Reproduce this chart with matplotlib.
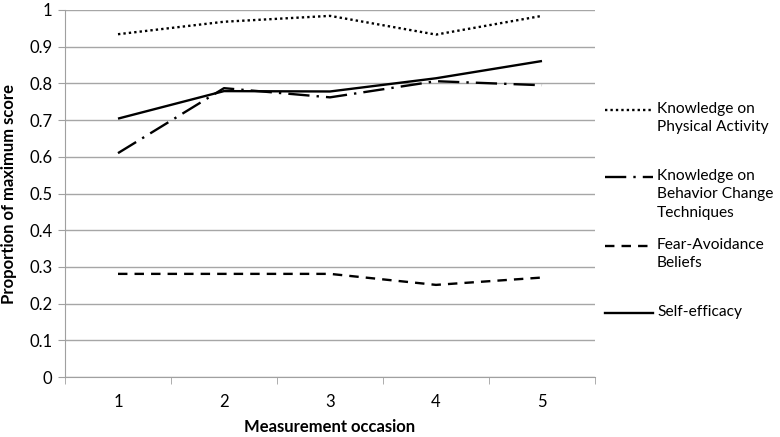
import matplotlib
matplotlib.use("Agg")
import matplotlib.pyplot as plt
from matplotlib.lines import Line2D

plt.rcParams['font.family'] = ['Lato', 'DejaVu Sans']

occasions = [1, 2, 3, 4, 5]
knowledge_pa = [0.934, 0.968, 0.984, 0.933, 0.984]
knowledge_bct = [0.610, 0.787, 0.762, 0.806, 0.795]
fear_avoidance = [0.281, 0.281, 0.281, 0.251, 0.271]
self_efficacy = [0.704, 0.779, 0.778, 0.814, 0.861]

labels = ["Knowledge on\nPhysical Activity",
          "Knowledge on\nBehavior Change\nTechniques",
          "Fear-Avoidance\nBeliefs",
          "Self-efficacy"]

styles = [dict(dashes=(1.0, 1.3)),
          dict(dashes=(9, 3, 1, 3)),
          dict(dashes=(4, 3)),
          dict(linestyle='-')]

fig = plt.figure(figsize=(7.8, 4.37), dpi=100)
ax = fig.add_axes([65 / 780, 1 - 377 / 437, 530 / 780, 367 / 437])

series = [knowledge_pa, knowledge_bct, fear_avoidance, self_efficacy]
for vals, st in zip(series, styles):
    ax.plot(occasions, vals, color='black', lw=1.7, solid_capstyle='butt',
            dash_capstyle='butt', **st)

ax.set_xlim(0.5, 5.5)
ax.set_ylim(0, 1)
ax.set_yticks([i / 10 for i in range(11)])
ax.set_yticklabels(["0"] + ["%.1f" % (i / 10) for i in range(1, 10)] + ["1"])
ax.set_xticks(occasions)
ax.set_xticks([0.5, 1.5, 2.5, 3.5, 4.5, 5.5], minor=True)
ax.tick_params(axis='x', which='major', length=0, pad=12, labelsize=12)
ax.tick_params(axis='x', which='minor', length=5, color='#a0a0a0', direction='out')
ax.tick_params(axis='y', length=5, color='#a0a0a0', direction='out', labelsize=12, pad=4)
ax.grid(axis='y', color='#a6a6a6', lw=1)
ax.set_axisbelow(True)
for s in ['top', 'right']:
    ax.spines[s].set_visible(False)
for s in ['left', 'bottom']:
    ax.spines[s].set_color('#a0a0a0')

ax.set_xlabel("Measurement occasion", fontsize=12, fontweight='bold', labelpad=7)
ax.set_ylabel("Proportion of maximum score", fontsize=12, fontweight='bold', labelpad=9)

# legend drawn by hand, Excel style (handle on first text line)
first_line_y = [110, 177, 246, 313]
for lab, st, yy in zip(labels, styles, first_line_y):
    yf = 1 - yy / 437
    ln = Line2D([605 / 780, 653 / 780], [yf, yf], transform=fig.transFigure,
                color='black', lw=1.7, dash_capstyle='butt', **st)
    fig.add_artist(ln)
    fig.text(657 / 780, yf + 8 / 437, lab, fontsize=11.2, va='top', ha='left',
             linespacing=1.4)

fig.savefig("out.png", dpi=100)
